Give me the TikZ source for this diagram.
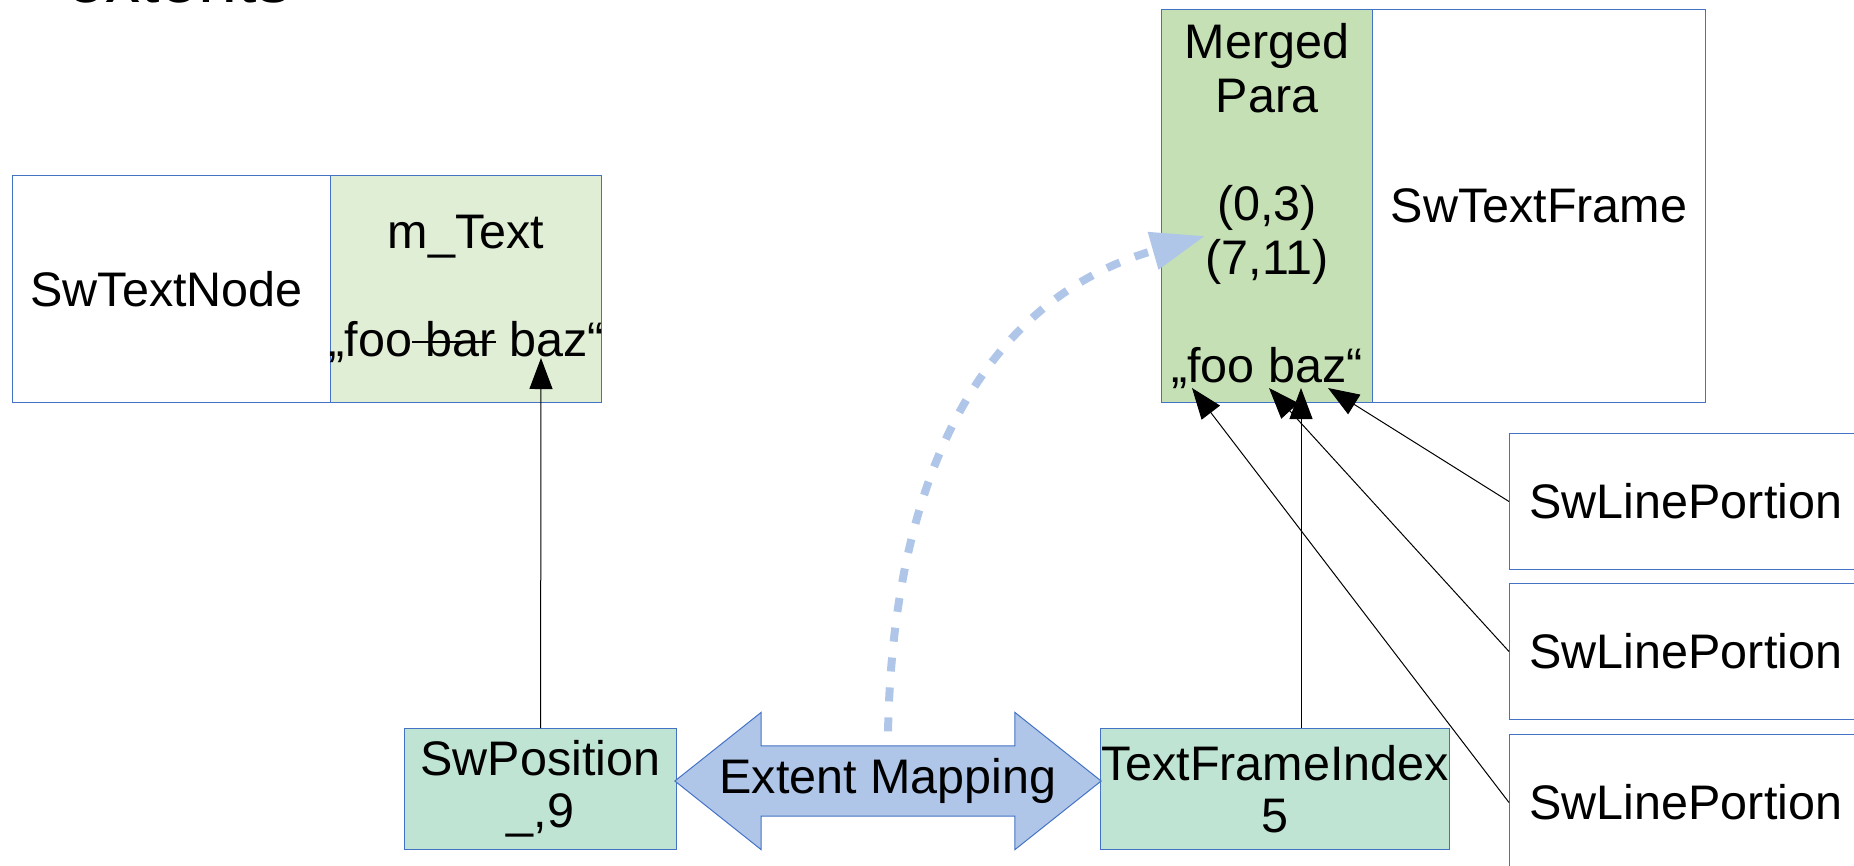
\documentclass[tikz,border=0pt]{standalone}
\usepackage{fontspec}
\setmainfont{Liberation Sans}
\usetikzlibrary{shapes.arrows,arrows.meta}
\definecolor{frameblue}{HTML}{4472C4}
\definecolor{textgreen}{HTML}{E0EED5}
\definecolor{paragreen}{HTML}{C5E0B4}
\definecolor{posgreen}{HTML}{C0E4D4}
\definecolor{mapblue}{HTML}{AFC6E9}
\newcommand{\struckword}[1]{\setbox0\hbox{#1}\rlap{\rule[0.27em]{\wd0}{2.5pt}}\box0\relax}
\begin{document}
\begin{tikzpicture}[x=1pt,y=-1pt]
            \tikzstyle{box}=[draw=frameblue,line width=1pt,inner sep=0pt,anchor=north west,align=center,font=\fontsize{48.5}{54}\selectfont]
            \tikzstyle{portion}=[box,text width=360pt,align=left,inner xsep=20pt,minimum height=136pt]
            \tikzstyle{edge}=[draw,line width=1pt,-{Triangle[length=31pt,width=23pt]}]
            \tikzstyle{flow}=[draw=mapblue,line width=8pt,dash pattern=on 14pt off 16pt,-{Triangle[length=54pt,width=37pt]}]
            \useasboundingbox (0,0) rectangle (1854,865);
            \node [anchor=base west,inner sep=0pt,font=\fontsize{70}{80}\selectfont] (title) at (66,2) {extents};
            \begin{scope}
               % node side
               \node [box,text width=282pt,inner xsep=18pt,align=left,minimum height=227pt] (node) at (12,175) {SwTextNode};
               \node [box,fill=textgreen,minimum width=271pt,minimum height=227pt] (mtext) at (330,175) {m\_Text\\~\\\makebox[271pt]{„foo\struckword{~bar} baz“}};
               % frame side
               \node [box,fill=paragreen,minimum width=211pt,minimum height=393pt] (merged) at (1161,9) {Merged\\Para\\~\\(0,3)\\(7,11)\\~\\„foo baz“};
               \node [box,minimum width=333pt,minimum height=393pt] (frame) at (1372,9) {SwTextFrame};
               \node [portion] (lp1) at (1509,433) {SwLinePortion};
               \node [portion] (lp2) at (1509,583) {SwLinePortion};
               \node [portion] (lp3) at (1509,734) {SwLinePortion};
               % positions
               \node [box,fill=posgreen,minimum width=272pt,minimum height=121pt,font=\fontsize{48.5}{52}\selectfont] (pos) at (404,728) {SwPosition\\\_,9};
               \node [box,fill=posgreen,minimum width=349pt,minimum height=121pt,font=\fontsize{48.5}{52}\selectfont] (tfi) at (1100,728) {TextFrameIndex\\5};
               \node [double arrow,draw=frameblue,fill=mapblue,line width=1pt,minimum height=424pt,minimum width=136pt,
                      double arrow head extend=33.5pt,double arrow tip angle=77,inner xsep=0pt,inner ysep=12pt,
                      font=\fontsize{48.5}{54}\selectfont] (ext) at (888,781) {Extent Mapping};
            \end{scope}
            \coordinate (tipPos) at (541,358);
            \coordinate (tipTfi) at (1301,388);
            \coordinate (tipLp1) at (1328,388);
            \coordinate (tipLp2) at (1269,388);
            \coordinate (tipLp3) at (1192,388);
            \coordinate (tipMerged) at (1205,236);
            \coordinate (flowStart) at ([yshift=14pt]ext.north);
            \path[edge] (pos) -- (tipPos);
            \path[edge] (tfi.north -| tipTfi) -- (tipTfi);
            \path[edge] (lp1.west) -- (tipLp1);
            \path[edge] (lp2.west) -- (tipLp2);
            \path[edge] (lp3.west) -- (tipLp3);
            \path[flow] (flowStart) .. controls (893,480) and (980,300) .. (tipMerged);
        \end{tikzpicture}
\end{document}
